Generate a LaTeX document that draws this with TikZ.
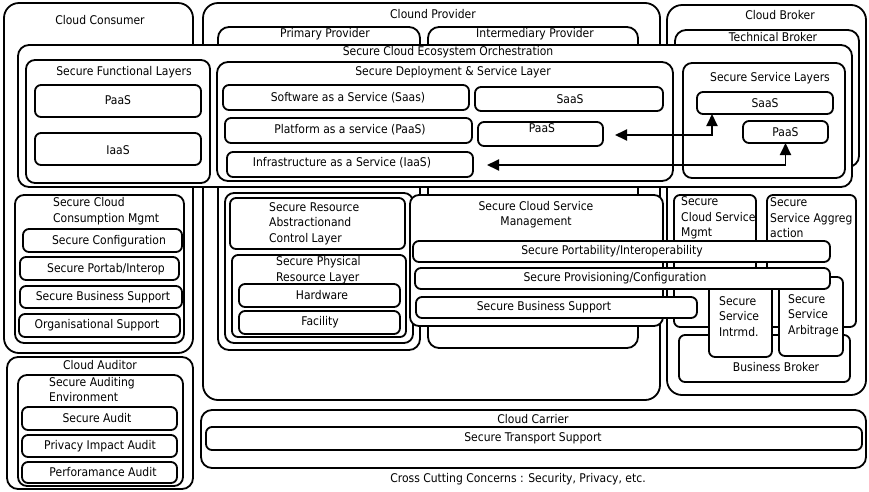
\documentclass[tikz,border=0pt]{standalone}
\usepackage{fontspec}
\setmainfont{DejaVu Sans}[FakeStretch=0.9]
\usetikzlibrary{arrows.meta}

% rounded box given by its corners: name, x1, y1, x2, y2
\newcommand\rbx[6][]{%
  \node[box,#1,minimum width={((#5)-(#3))*1pt},minimum height={((#6)-(#4))*1pt}]
    (#2) at ({((#3)+(#5))/2},{((#4)+(#6))/2}) {};}

\tikzset{
  box/.style={draw=black, fill=white, line width=1.8pt, rounded corners=6pt,
              inner sep=0pt, outer sep=0pt},
  bigbox/.style={rounded corners=15pt},
  midbox/.style={rounded corners=11pt},
  lbl/.style={inner sep=0pt, font=\fontsize{12}{15.5}\selectfont},
  lbll/.style={lbl, align=left, anchor=west},
  link/.style={line width=1.9pt, {Triangle[length=12pt,width=11pt]}-{Triangle[length=12pt,width=11pt]}},
}

\begin{document}
\begin{tikzpicture}[x=1pt,y=-1pt]
\useasboundingbox (0,0) rectangle (869,491);
\fill[white] (0,0) rectangle (869,491);

% ---- actors ----
\rbx[bigbox]{consumer}{4}{3}{193}{353}
\rbx[bigbox]{provider}{203}{3}{660}{400}
\rbx[bigbox]{broker}{667}{5}{866}{395}
\rbx[midbox]{primary}{218}{27}{420}{350}
\rbx[midbox]{interm}{428}{27}{638}{348}
\rbx[midbox]{tech}{675}{30}{859}{167}
\node[lbl] (consumer-t) at (100,20) {Cloud Consumer};
\node[lbl] (provider-t) at (433,14) {Clound Provider};
\node[lbl] (broker-t) at (780,15) {Cloud Broker};
\node[lbl] (primary-t) at (325,34) {Primary Provider};
\node[lbl] (interm-t) at (535,34) {Intermediary Provider};
\node[lbl] (tech-t) at (773,37) {Technical Broker};

% ---- orchestration band ----
\rbx[midbox]{orch}{18}{45}{852}{187}
\node[lbl] (orch-t) at (448,52) {Secure Cloud Ecosystem Orchestration};

\rbx[rounded corners=9pt]{sfl}{26}{60}{210}{183}
\node[lbl] (sfl-t) at (124,72) {Secure Functional Layers};
\rbx{fpaas}{35}{85}{201}{117}
\node[lbl] (fpaas-t) at (118,100) {PaaS};
\rbx{fiaas}{35}{133}{201}{165}
\node[lbl] (fiaas-t) at (118,150) {IaaS};

\rbx[midbox]{deploy}{217}{62}{673}{181}
\node[lbl] (deploy-t) at (453,72) {Secure Deployment \& Service Layer};
\rbx{saasA}{223}{85}{469}{110}
\node[lbl] (saasA-t) at (348,98) {Software as a Service (Saas)};
\rbx{saasB}{475}{87}{663}{111}
\node[lbl] (saasB-t) at (570,99) {SaaS};
\rbx{paasA}{225}{118}{472}{143}
\node[lbl] (paasA-t) at (350,130) {Platform as a service (PaaS)};
\rbx{paasB}{478}{122}{603}{146}
\node[lbl] (paasB-t) at (542,128) {PaaS};
\rbx{iaasA}{227}{152}{473}{177}
\node[lbl] (iaasA-t) at (342,163) {Infrastructure as a Service (IaaS)};

\rbx[rounded corners=9pt]{ssl}{683}{63}{845}{178}
\node[lbl] (ssl-t) at (770,78) {Secure Service Layers};
\rbx{ssaas}{697}{92}{833}{114}
\node[lbl] (ssaas-t) at (765,103) {SaaS};
\rbx{spaas}{743}{121}{828}{143}
\node[lbl] (spaas-t) at (785.5,132) {PaaS};

% links between the service layers
\coordinate (tipA) at (615,135);
\coordinate (tipB) at (487,165);
\draw[link] (tipA) -| ([xshift=-53pt]ssaas.south);
\draw[link] (tipB) -| (spaas.south);

% ---- consumer side ----
\rbx[rounded corners=9pt]{sccm}{15}{195}{184}{343}
\node[lbll] (sccm-t) at (53,211) {Secure Cloud\\Consumption Mgmt};
\rbx{sconf}{23}{229}{182}{252}
\node[lbl] (sconf-t) at (109,241) {Secure Configuration};
\rbx{sport}{20}{257}{179}{280}
\node[lbl] (sport-t) at (106,269) {Secure Portab/Interop};
\rbx{sbusC}{20}{286}{182}{308}
\node[lbl] (sbusC-t) at (103,297) {Secure Business Support};
\rbx{sorg}{19}{314}{180}{337}
\node[lbl] (sorg-t) at (97,325) {Organisational Support};

% ---- auditor ----
\rbx[midbox]{auditor}{7}{357}{193}{489}
\node[lbl] (auditor-t) at (100,365) {Cloud Auditor};
\rbx[rounded corners=9pt]{sae}{18}{375}{183}{486}
\node[lbll] (sae-t) at (49,389.5) {Secure Auditing\\Environment};
\rbx{saud}{22}{407}{177}{430}
\node[lbl] (saud-t) at (97,418) {Secure Audit};
\rbx{spia}{22}{435}{177}{457}
\node[lbl] (spia-t) at (100,446) {Privacy Impact Audit};
\rbx{sperf}{22}{462}{177}{483}
\node[lbl] (sperf-t) at (103,472) {Perforamance Audit};

% ---- primary provider resources ----
\rbx[rounded corners=9pt]{rstack}{225}{193}{413}{343}
\rbx{sra}{230}{198}{405}{249}
\node[lbll] (sra-t) at (269,223.5) {Secure Resource\\Abstractionand\\Control Layer};
\rbx{spr}{232}{255}{406}{337}
\node[lbll] (spr-t) at (276,270) {Secure Physical\\Resource Layer};
\rbx{hw}{239}{284}{400}{307}
\node[lbl] (hw-t) at (322,295) {Hardware};
\rbx{fac}{239}{311}{400}{334}
\node[lbl] (fac-t) at (320,322) {Facility};

% ---- service management ----
\rbx[rounded corners=9pt]{scsm}{410}{195}{663}{326}
\node[lbl, align=center] (scsm-t) at (536,214.5) {Secure Cloud Service\\Management};

% ---- broker services ----
\rbx{bmgmt}{674}{195}{756}{327}
\node[lbll] (bmgmt-t) at (681,218) {Secure\\Cloud Service\\Mgmt};
\rbx{bagg}{767}{195}{856}{327}
\node[lbll] (bagg-t) at (770,218) {Secure\\Service Aggreg\\action};
\rbx{bbiz}{679}{335}{850}{382}
\node[lbl] (bbiz-t) at (776,367) {Business Broker};
\rbx{bint}{709}{277}{772}{357}
\node[lbll] (bint-t) at (719,316.5) {Secure\\Service\\Intrmd.};
\rbx{barb}{779}{277}{843}{356}
\node[lbll] (barb-t) at (788,315.5) {Secure\\Service\\Arbitrage};

% ---- cross-actor bars ----
\rbx{sportab}{413}{241}{830}{262}
\node[lbl] (sportab-t) at (612,251) {Secure Portability/Interoperability};
\rbx{sprov}{415}{268}{830}{289}
\node[lbl] (sprov-t) at (615,278) {Secure Provisioning/Configuration};
\rbx{sbusP}{416}{297}{697}{318}
\node[lbl] (sbusP-t) at (544,307) {Secure Business Support};

% ---- carrier ----
\rbx[midbox]{carrier}{201}{410}{866}{468}
\node[lbl] (carrier-t) at (533,419) {Cloud Carrier};
\rbx{sts}{206}{427}{862}{450}
\node[lbl] (sts-t) at (533,438) {Secure Transport Support};

\node[lbl] (ccc) at (518,479) {Cross Cutting Concerns : Security, Privacy, etc.};
\end{tikzpicture}
\end{document}
